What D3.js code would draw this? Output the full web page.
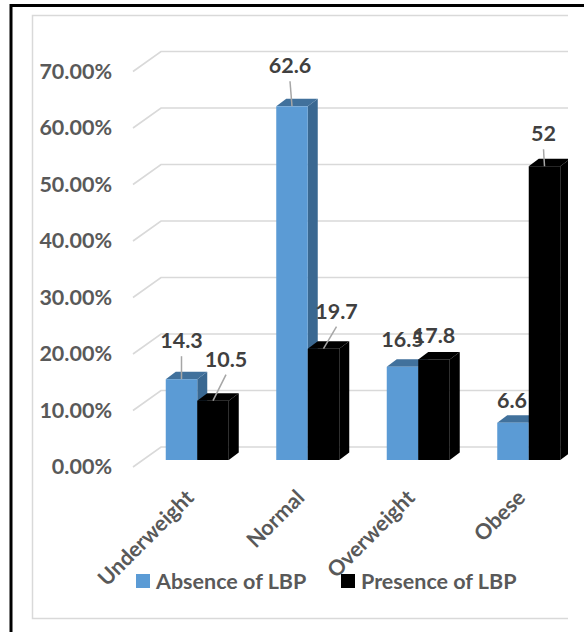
<!DOCTYPE html>
<html>
<head>
<meta charset="utf-8">
<script src="https://cdn.jsdelivr.net/npm/d3@7/dist/d3.min.js"></script>
<style>
  html, body { margin: 0; padding: 0; background: #fff; }
  svg { display: block; font-family: Lato, "Open Sans", sans-serif; font-weight: bold; }
</style>
</head>
<body>
<svg id="chart" width="584" height="632"></svg>
<script>
// BMI categories and the share (%) of each group with / without low back pain
const categories = ["Underweight", "Normal", "Overweight", "Obese"];
const seriesNames = ["Absence of LBP", "Presence of LBP"];
const absenceLBP = [14.3, 62.6, 16.5, 6.6];
const presenceLBP = [10.5, 19.7, 17.8, 52];
const tickValues = [0, 10, 20, 30, 40, 50, 60, 70];

// label placement relative to the top of each bar: [dx, dy, leader?]
const absenceLabelPos = [[0, -39, true], [-2, -41, true], [0, -28, false], [-1, -23, false]];
const presenceLabelPos = [[13, -42, true], [13, -38, true], [0, -24, false], [-1, -33, true]];

const colors = {
  front: ["#5b9bd5", "#000000"],
  top: ["#41719c", "#000000"],
  side: ["#3a6891", "#000000"]
};

const FONT = 21.5;
const svg = d3.select("#chart");
const W = 584, H = 632;

// depth of the 3-D box and of each bar
const floor = { dx: 28, dy: -20, frontOff: 7 };
const bar = { dx: 10, dy: -7.5 };

const y = d3.scaleLinear().domain([0, 70]).range([460, 460 - 70 * 5.65]);
const x = d3.scaleBand().domain(categories).range([142, 584]);
const xs = d3.scaleBand().domain(seriesNames).range([0, 63]);

// outer frame
svg.append("path")
  .attr("d", `M${W},5.5 H11 V${H}`)
  .attr("fill", "none").attr("stroke", "#000").attr("stroke-width", 3);

// chart area border
svg.append("path")
  .attr("d", "M568,15.5 H32.5 V618.5 H568")
  .attr("fill", "none").attr("stroke", "#d9d9d9").attr("stroke-width", 1.5);

const clip = svg.append("defs").append("clipPath").attr("id", "plotClip");
clip.append("rect").attr("x", 0).attr("y", 0).attr("width", 568).attr("height", H);

const plot = svg.append("g").attr("clip-path", "url(#plotClip)");

// gridlines: floor diagonal plus back wall line
const x0Grid = 133;
plot.append("g").selectAll("path")
  .data(tickValues)
  .join("path")
  .attr("d", t => {
    const yf = y(t) + floor.frontOff;
    return `M${x0Grid},${yf} L${x0Grid + floor.dx},${yf + floor.dy} H568`;
  })
  .attr("fill", "none").attr("stroke", "#d9d9d9").attr("stroke-width", 1.6);

// value axis labels
const yAxisScale = y.copy().range(y.range().map(v => v + floor.frontOff));
const yAxis = svg.append("g")
  .attr("transform", "translate(112,0)")
  .call(d3.axisLeft(yAxisScale).tickValues(tickValues).tickSize(0).tickPadding(0)
    .tickFormat(d => d.toFixed(2) + "%"));
yAxis.select(".domain").remove();
yAxis.selectAll("text")
  .attr("fill", "#595959").attr("font-size", FONT).attr("font-family", "Lato").attr("font-weight", "bold");

// bars
const seriesData = [absenceLBP, presenceLBP];
const barW = xs.bandwidth();
const bars = [];
categories.forEach((c, i) => {
  seriesNames.forEach((s, k) => {
    bars.push({ cat: c, k, v: seriesData[k][i], x0: x(c) + x.bandwidth() / 2 - 31.5 + xs(s) });
  });
});

const barG = plot.append("g").selectAll("g").data(bars).join("g");
// side face
barG.append("path")
  .attr("d", d => {
    const x1 = d.x0 + barW, yt = y(d.v), yb = y(0);
    return `M${x1},${yb} L${x1 + bar.dx},${yb + bar.dy} L${x1 + bar.dx},${yt + bar.dy} L${x1},${yt} Z`;
  })
  .attr("fill", d => colors.side[d.k]);
// top face
barG.append("path")
  .attr("d", d => {
    const x1 = d.x0 + barW, yt = y(d.v);
    return `M${d.x0},${yt} L${d.x0 + bar.dx},${yt + bar.dy} L${x1 + bar.dx},${yt + bar.dy} L${x1},${yt} Z`;
  })
  .attr("fill", d => colors.top[d.k]);
// front face
barG.append("rect")
  .attr("x", d => d.x0)
  .attr("y", d => y(d.v))
  .attr("width", barW)
  .attr("height", d => y(0) - y(d.v))
  .attr("fill", d => colors.front[d.k]);

// data labels with leader lines
const labels = bars.map(d => {
  const i = categories.indexOf(d.cat);
  const pos = (d.k === 0 ? absenceLabelPos : presenceLabelPos)[i];
  const cx = d.x0 + barW / 2, cy = y(d.v);
  return { text: String(d.v), cx, cy, lx: cx + pos[0], ly: cy + pos[1], leader: pos[2] };
});

const labelG = svg.append("g");
labelG.selectAll("line")
  .data(labels.filter(d => d.leader))
  .join("line")
  .attr("x1", d => d.lx).attr("y1", d => d.ly + 16)
  .attr("x2", d => d.cx).attr("y2", d => d.cy)
  .attr("stroke", "#a6a6a6").attr("stroke-width", 1.5);

labelG.selectAll("text")
  .data(labels)
  .join("text")
  .attr("x", d => d.lx).attr("y", d => d.ly)
  .attr("text-anchor", "middle")
  .attr("dominant-baseline", "central")
  .attr("fill", "#404040").attr("font-size", FONT)
  .text(d => d.text);

// category labels, rotated
svg.append("g").selectAll("text")
  .data(categories)
  .join("text")
  .attr("transform", c => `translate(${x(c) + x.bandwidth() / 2 - 2},${499}) rotate(-45)`)
  .attr("text-anchor", "end")
  .attr("fill", "#595959").attr("font-size", FONT)
  .text(c => c);

// legend
const legendX = [136, 341];
const legend = svg.append("g").selectAll("g")
  .data(seriesNames)
  .join("g")
  .attr("transform", (s, k) => `translate(${legendX[k]},574)`);
legend.append("rect").attr("width", 14).attr("height", 14).attr("fill", (s, k) => colors.front[k]);
legend.append("text")
  .attr("x", 20).attr("y", 7)
  .attr("dominant-baseline", "central")
  .attr("fill", "#595959").attr("font-size", FONT)
  .text(s => s);
</script>
</body>
</html>
